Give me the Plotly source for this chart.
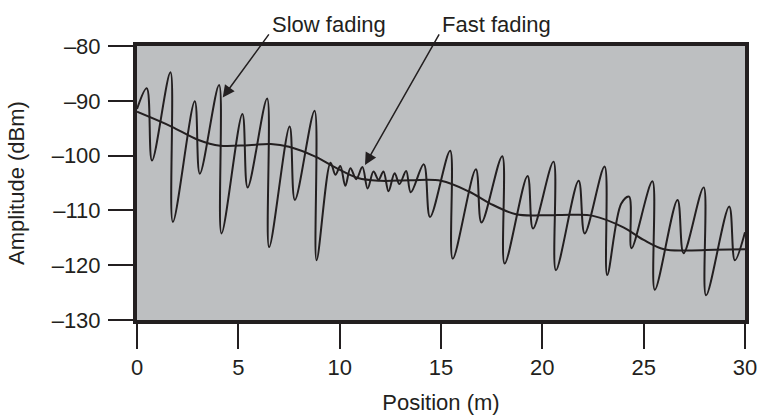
import plotly.graph_objects as go

# ---- data ----
fast_x = [0.0, 0.48, 0.74, 1.65, 1.77, 2.85, 3.1, 4.05, 4.17, 5.2, 5.46, 6.42, 6.52,
          7.53, 7.79, 8.76, 8.86, 9.55, 9.79, 10.03, 10.28, 10.53, 10.82, 11.12, 11.38,
          11.67, 11.92, 12.16, 12.41, 12.71, 12.95, 13.28, 13.51, 14.15, 14.46, 15.45,
          15.58, 16.72, 17.0, 18.02, 18.14, 19.27, 19.54, 20.55, 20.67, 21.79, 22.09,
          23.07, 23.2, 23.89, 24.28, 24.4, 25.43, 25.55, 26.67, 26.97, 27.96, 28.08,
          29.22, 29.5, 30.0]
fast_y = [-91.5, -87.7, -100.9, -84.8, -112.1, -90.1, -103.3, -87.1, -114.2, -92.4,
          -105.8, -89.6, -116.7, -94.7, -108.1, -91.8, -119.1, -101.3, -103.5, -101.9,
          -105.5, -102.3, -104.3, -102.1, -106.0, -102.9, -104.4, -102.9, -106.5, -103.2,
          -105.2, -102.8, -106.7, -101.6, -111.2, -99.1, -118.8, -102.5, -112.2, -100.1,
          -119.7, -103.7, -113.3, -101.1, -120.9, -104.6, -114.2, -102.0, -121.8, -108.8,
          -107.5, -116.9, -104.7, -124.5, -108.1, -117.8, -105.8, -125.5, -109.3, -119.1,
          -114.0]

slow_x = [0, 1.7, 3.0, 4.1, 5.5, 6.6, 7.5, 8.8, 9.8, 10.9, 12.0, 13.5, 15.0, 16.4,
          17.4, 18.7, 20.0, 21.5, 22.5, 24.0, 25.0, 26.0, 27.3, 28.5, 30.0]
slow_y = [-92.0, -94.7, -97.1, -98.2, -98.1, -97.9, -98.4, -100.2, -102.2, -104.1,
          -104.6, -104.5, -104.6, -106.6, -108.7, -110.7, -110.9, -110.8, -111.0,
          -113.1, -115.4, -117.1, -117.3, -117.2, -117.1]

x_ticks = [0, 5, 10, 15, 20, 25, 30]
y_ticks = [-130, -120, -110, -100, -90, -80]
y_ticktext = ["\u2013130", "\u2013120", "\u2013110", "\u2013100", "\u201390", "\u201380"]

INK = "#231f20"
FONT = "Liberation Sans, Arial, sans-serif"

fig = go.Figure()
fig.add_trace(go.Scatter(x=fast_x, y=fast_y, mode="lines",
                         line=dict(color=INK, width=2, shape="spline", smoothing=1.0),
                         name="Fast fading", showlegend=False))
fig.add_trace(go.Scatter(x=slow_x, y=slow_y, mode="lines",
                         line=dict(color=INK, width=2, shape="spline", smoothing=1.0),
                         name="Slow fading", showlegend=False))

# labels
for txt, xp in [("Slow fading", 0.316), ("Fast fading", 0.592)]:
    fig.add_annotation(text=txt, xref="paper", yref="paper", x=xp, y=1.08,
                       xanchor="center", yanchor="middle", showarrow=False,
                       font=dict(size=22, color=INK, family=FONT))
# arrows
fig.add_annotation(text="", x=4.23, y=-89.4, ax=6.56, ay=-77.6, xref="x", yref="y",
                   axref="x", ayref="y", showarrow=True, arrowhead=2, arrowsize=1.6,
                   arrowwidth=1.5, arrowcolor=INK)
fig.add_annotation(text="", x=11.25, y=-101.7, ax=14.95, ay=-77.6, xref="x", yref="y",
                   axref="x", ayref="y", showarrow=True, arrowhead=2, arrowsize=1.6,
                   arrowwidth=1.5, arrowcolor=INK)

axis_common = dict(showgrid=False, zeroline=False, showline=True, linewidth=4,
                   linecolor=INK, mirror=True, ticks="outside", ticklen=25,
                   tickwidth=1.5, tickcolor=INK, automargin=False,
                   tickfont=dict(size=22, color=INK, family=FONT))

fig.update_xaxes(range=[0, 30], tickvals=x_ticks,
                 title=dict(text="Position (m)", font=dict(size=22, color=INK, family=FONT),
                            standoff=16),
                 **axis_common)
fig.update_yaxes(range=[-130, -80], tickvals=y_ticks, ticktext=y_ticktext,
                 ticklabelstandoff=3,
                 title=dict(text="Amplitude (dBm)", font=dict(size=22, color=INK, family=FONT),
                            standoff=22),
                 **axis_common)

fig.update_layout(width=759, height=415, margin=dict(l=137, r=14, t=46, b=95),
                  plot_bgcolor="#bdbfc1", paper_bgcolor="white",
                  font=dict(family=FONT, color=INK))

fig.write_html("out.html", config={"displayModeBar": False},
               post_script="document.body.style.margin='0px';document.body.style.overflow='hidden';")
